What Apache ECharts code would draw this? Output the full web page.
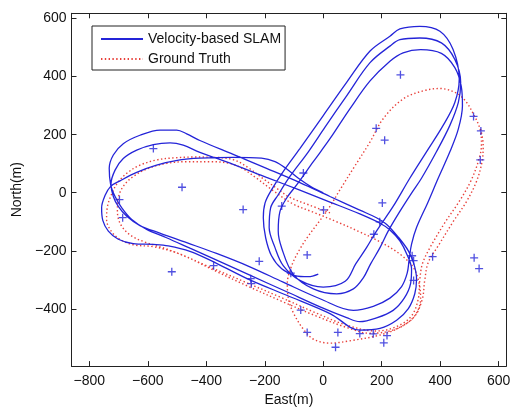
<!DOCTYPE html>
<html>
<head>
<meta charset="utf-8">
<script src="https://cdn.jsdelivr.net/npm/echarts@6.0.0/dist/echarts.min.js"></script>
<style>
  html, body { margin: 0; padding: 0; background: #fff; }
  #chart { width: 517px; height: 412px; }
</style>
</head>
<body>
<div id="chart"></div>
<script>
// Axis tick positions (metres)
const xTicks = [-800, -600, -400, -200, 0, 200, 400, 600];
const yTicks = [-400, -200, 0, 200, 400, 600];

// Estimated vehicle track from velocity-based SLAM (East, North)
const slamTrack = [
  [0,0],[-40,20],[-85,50],[-125,82],[-165,107],[-211,119],[-308,122],[-422,119],[-490,113],[-570,95],[-638,70],[-695,41],[-727,22],
  [-746,-9],[-758,-52],[-754,-95],[-735,-132],[-701,-160],[-650,-175],[-581,-178],[-530,-183],
  [-456,-202],[-365,-243],[-251,-300],[-125,-353],[23,-416],[125,-473],
  [194,-467],[251,-439],[291,-399],[313,-348],[319,-297],[310,-245],[291,-200],[256,-152],[217,-109],[182,-86],
  [125,-60],[23,-13],[-80,35],[-194,84],[-308,132],[-422,180],[-467,203],
  [-501,216],[-558,216],[-627,198],[-684,169],[-718,130],[-732,84],[-727,27],
  [-712,-13],[-689,-52],[-655,-92],[-604,-126],[-536,-155],
  [-456,-191],[-376,-227],[-251,-284],[-125,-341],[-11,-393],[80,-430],[125,-444],
  [182,-431],[239,-405],[277,-363],[299,-311],[302,-263],[287,-214],[262,-166],[228,-128],[194,-105],
  [125,-73],[23,-32],[-80,9],[-194,53],[-308,98],[-422,139],
  [-479,164],[-524,172],[-581,166],[-638,147],[-684,118],[-712,78],[-726,30],
  [-718,-13],[-701,-47],[-672,-81],[-627,-113],[-559,-139],
  [-467,-172],[-365,-209],[-251,-255],[-137,-308],[-11,-365],[103,-405],
  [171,-391],[228,-363],[268,-323],[287,-277],[294,-228],[302,-177],
  [319,-120],[357,-35],[393,50],[433,141],[462,220],[476,300],[472,366],
  [450,431],[404,480],[333,493],[273,482],[228,453],[160,385],
  [91,289],[23,186],[-34,107],[-91,27],[-125,-18],
  [-148,-64],[-154,-132],[-142,-191],[-103,-280],[-34,-331],[46,-348],
  [103,-331],[137,-293],[162,-245],[194,-189],[222,-132],[262,-64],[302,-1],[336,50],[387,141],[433,232],[462,311],[470,380],
  [450,459],[404,516],[330,533],[262,527],[228,505],[160,448],
  [80,334],[6,226],[-51,141],[-114,56],[-154,-7],
  [-180,-52],[-185,-120],[-165,-189],[-137,-251],[-80,-302],[0,-325],[75,-305],[111,-245],
  [148,-189],[182,-132],[239,-47],[296,50],[353,141],[410,232],[450,311],[465,391],
  [444,493],[399,556],[330,573],[262,564],[228,539],[160,488],
  [80,380],[0,266],[-80,152],[-137,73],[-177,10],
  [-199,-35],[-205,-86],[-197,-155],[-177,-217],[-142,-262],[-97,-285],[-51,-289],[-17,-280]
];

// Reference track (East, North)
const groundTruth = [
  [23,-69],[-46,-43],[-114,-16],[-160,16],[-205,48],[-256,86],[-308,114],[-376,122],[-444,123],[-513,120],[-570,113],
  [-627,95],[-672,67],[-704,33],[-724,-5],[-738,-47],[-741,-92],[-724,-134],[-690,-164],[-644,-180],[-581,-186],
  [-490,-211],[-376,-266],[-262,-320],[-137,-376],[-23,-425],[80,-464],[160,-484],[228,-476],[285,-450],[319,-414],
  [333,-365],[327,-308],[308,-257],[262,-211],[194,-169],[125,-135],[46,-100],[-34,-67],[-103,-39],[-171,7],
  [-228,50],[-274,82],[-319,101],[-387,107],[-467,107],[-536,101],[-598,84],[-650,56],[-684,22],[-701,-18],
  [-704,-64],[-693,-109],[-661,-145],[-615,-168],[-524,-198],[-399,-251],[-262,-310],[-148,-359],[-34,-410],
  [80,-456],[182,-476],[251,-461],[302,-424],[325,-365],[330,-302],[339,-245],[365,-189],[416,-103],[465,-30],
  [504,39],[530,107],[541,164],[536,220],[513,272],[488,314],[456,343],[399,359],[342,351],[273,323],[205,255],
  [160,175],[103,84],[57,10],[23,-47],[-11,-95],[-51,-149],[-80,-194],[-108,-251],[-123,-314],[-118,-370],
  [-100,-418],[-68,-470],[-32,-505],[23,-518],[91,-510],[194,-490],[262,-464],[313,-425],[339,-365],[347,-302],
  [359,-240],[393,-183],[444,-100],[490,-30],[524,39],[543,107],[547,164],[538,220]
];

// Landmark positions (East, North)
const landmarks = [
  [-581,152],[-483,19],[-274,-58],[1,-59],[-68,68],[-142,-46],[181,222],[210,181],[264,406],[202,-35],
  [193,-100],[173,-143],[304,-217],[309,-234],[309,-302],[374,-220],[514,263],[539,213],[537,113],[516,-224],
  [533,-261],[-697,-24],[-686,-86],[-518,-272],[-375,-251],[-248,-296],[-246,-313],[-219,-236],[-111,-277],
  [-55,-214],[-77,-404],[-55,-481],[42,-532],[50,-481],[125,-485],[171,-486],[207,-517],[218,-492]
];

const FONT = 'Liberation Sans, Arial, Helvetica, sans-serif';
const BLUE = '#2424d8';
const RED = '#e8403a';
const minus = v => String(v).replace('-', '\u2212');

function frameAxis(extra) {
  return Object.assign({
    type: 'value',
    axisLine: { show: true, onZero: false, lineStyle: { color: '#222', width: 1 } },
    splitLine: { show: false }
  }, extra);
}

const chart = echarts.init(document.getElementById('chart'), null, { renderer: 'canvas' });
chart.setOption({
  animation: false,
  backgroundColor: '#fff',
  grid: { left: 71.5, right: 10.7, top: 13.3, bottom: 42, containLabel: false },
  xAxis: [
    frameAxis({
      min: -861, max: 626, position: 'bottom',
      axisTick: { show: true, inside: true, length: 5, customValues: xTicks, lineStyle: { color: '#222' } },
      axisLabel: { customValues: xTicks, margin: 8, fontSize: 14, color: '#111', fontFamily: FONT, formatter: minus },
      name: 'East(m)', nameLocation: 'middle', nameGap: 24,
      nameTextStyle: { fontSize: 14, color: '#111', fontFamily: FONT }
    }),
    frameAxis({
      min: -861, max: 626, position: 'top',
      axisTick: { show: true, inside: true, length: 5, customValues: xTicks, lineStyle: { color: '#222' } },
      axisLabel: { show: false }
    })
  ],
  yAxis: [
    frameAxis({
      min: -597, max: 618, position: 'left',
      axisTick: { show: true, inside: true, length: 5, customValues: yTicks, lineStyle: { color: '#222' } },
      axisLabel: { customValues: yTicks, margin: 5, fontSize: 14, color: '#111', fontFamily: FONT, formatter: minus },
      name: 'North(m)', nameLocation: 'middle', nameGap: 43, nameRotate: 90,
      nameTextStyle: { fontSize: 14, color: '#111', fontFamily: FONT }
    }),
    frameAxis({
      min: -597, max: 618, position: 'right',
      axisTick: { show: true, inside: true, length: 5, customValues: yTicks, lineStyle: { color: '#222' } },
      axisLabel: { show: false }
    })
  ],
  legend: {
    data: ['Velocity-based SLAM', 'Ground Truth'],
    orient: 'vertical',
    left: 92, top: 26,
    padding: [6, 4, 4, 8],
    itemWidth: 42, itemHeight: 14, itemGap: 6,
    itemStyle: { opacity: 0 },
    borderColor: '#222', borderWidth: 1,
    backgroundColor: '#fff',
    textStyle: { fontSize: 14, color: '#111', fontFamily: FONT }
  },
  series: [
    {
      name: 'Velocity-based SLAM',
      type: 'line',
      data: slamTrack,
      showSymbol: false, symbol: 'none',
      smooth: 0.35,
      lineStyle: { color: BLUE, width: 1.3 },
      itemStyle: { color: BLUE },
      z: 3
    },
    {
      name: 'Ground Truth',
      type: 'line',
      data: groundTruth,
      showSymbol: false, symbol: 'none',
      smooth: 0.35,
      lineStyle: { color: RED, width: 1.4, type: [1.4, 2.4] },
      itemStyle: { color: RED },
      z: 2
    },
    {
      name: 'Landmarks',
      type: 'scatter',
      data: landmarks,
      symbol: 'path://M0,4L8,4M4,0L4,8',
      symbolSize: 8,
      itemStyle: { color: 'rgba(0,0,0,0)', borderColor: BLUE, borderWidth: 1.3 },
      z: 4
    }
  ]
});
</script>
</body>
</html>
